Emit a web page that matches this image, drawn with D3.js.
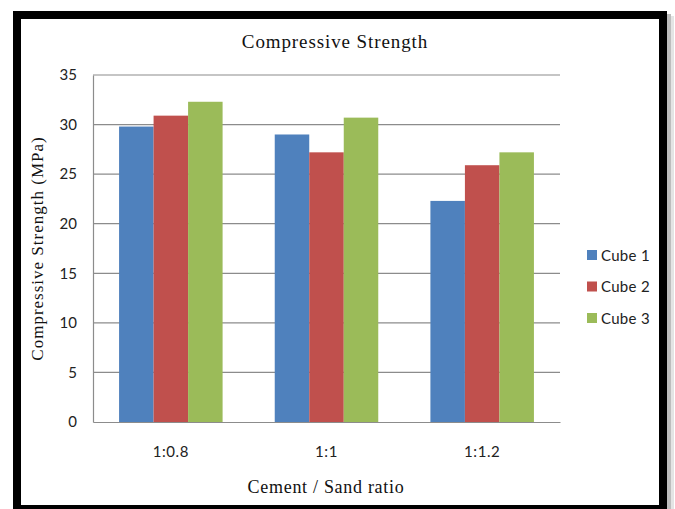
<!DOCTYPE html>
<html>
<head>
<meta charset="utf-8">
<script src="https://cdn.jsdelivr.net/npm/d3@7"></script>
<style>
  html, body { margin: 0; padding: 0; background: #fff; }
  svg { display: block; }
</style>
</head>
<body>
<svg id="chart" width="675" height="509"></svg>
<script>
// Cement / sand ratios tested
const categories = ["1:0.8", "1:1", "1:1.2"];
// Series names for each cube
const seriesNames = ["Cube 1", "Cube 2", "Cube 3"];
// Compressive strength (MPa) per cube, one value per ratio
const cube1 = [29.8, 29.0, 22.3];
const cube2 = [30.9, 27.2, 25.9];
const cube3 = [32.3, 30.7, 27.2];
const yTicks = [0, 5, 10, 15, 20, 25, 30, 35];
const colors = ["#4F81BD", "#C0504D", "#9BBB59"];

const seriesValues = [cube1, cube2, cube3];
const rows = categories.map((c, i) => ({
  category: c,
  values: seriesNames.map((s, j) => ({ series: s, value: seriesValues[j][i], idx: j }))
}));

const svg = d3.select("#chart");

const sansFont = "Lato, 'Open Sans', sans-serif";
const serifFont = "'Liberation Serif', 'DejaVu Serif', serif";

// Drop shadow on right edge and black frame
svg.append("rect").attr("x", 667).attr("y", 14).attr("width", 4).attr("height", 495).attr("fill", "#bdbdbd");
svg.append("rect").attr("x", 671).attr("y", 16).attr("width", 3).attr("height", 493).attr("fill", "#e4e4e4");
svg.append("rect")
  .attr("x", 17).attr("y", 15)
  .attr("width", 646).attr("height", 494)
  .attr("fill", "#fff")
  .attr("stroke", "#000").attr("stroke-width", 8);

const plot = { left: 93, right: 560, top: 75, bottom: 422 };

const x0 = d3.scaleBand()
  .domain(categories)
  .range([plot.left, plot.right])
  .paddingInner(0.335)
  .paddingOuter(0.1675);

const x1 = d3.scaleBand()
  .domain(seriesNames)
  .range([0, x0.bandwidth()]);

const y = d3.scaleLinear().domain([0, 35]).range([plot.bottom, plot.top]);
const color = d3.scaleOrdinal().domain(seriesNames).range(colors);

// Horizontal gridlines
svg.append("g")
  .selectAll("line")
  .data(yTicks.filter(t => t > 0))
  .join("line")
  .attr("x1", plot.left).attr("x2", plot.right)
  .attr("y1", d => y(d)).attr("y2", d => y(d))
  .attr("stroke", "#8c8c8c").attr("stroke-width", 1.2);

// Bars
svg.append("g")
  .selectAll("g")
  .data(rows)
  .join("g")
  .attr("transform", d => `translate(${x0(d.category)},0)`)
  .selectAll("rect")
  .data(d => d.values)
  .join("rect")
  .attr("x", d => x1(d.series))
  .attr("y", d => y(d.value))
  .attr("width", x1.bandwidth())
  .attr("height", d => y(0) - y(d.value))
  .attr("fill", d => color(d.series));

// Y axis
const yAxis = svg.append("g")
  .attr("transform", `translate(${plot.left},0)`)
  .call(d3.axisLeft(y).tickValues(yTicks).tickSize(0).tickPadding(16));
yAxis.select(".domain").attr("stroke", "#8c8c8c").attr("stroke-width", 1.2);
yAxis.selectAll("text")
  .attr("font-family", sansFont)
  .attr("font-size", 15)
  .attr("fill", "#222");

// X axis
const xAxis = svg.append("g")
  .attr("transform", `translate(0,${plot.bottom})`)
  .call(d3.axisBottom(x0).tickSize(0).tickPadding(24));
xAxis.select(".domain").attr("stroke", "#8c8c8c").attr("stroke-width", 1.2);
xAxis.selectAll("text")
  .attr("font-family", sansFont)
  .attr("font-size", 15)
  .attr("letter-spacing", 0.6)
  .attr("fill", "#222");

// Title and axis titles
svg.append("text")
  .attr("x", 335).attr("y", 48)
  .attr("text-anchor", "middle")
  .attr("font-family", serifFont)
  .attr("font-size", 19)
  .attr("letter-spacing", 0.9)
  .attr("fill", "#111")
  .text("Compressive Strength");

svg.append("text")
  .attr("transform", `translate(43,${(plot.top + plot.bottom) / 2}) rotate(-90)`)
  .attr("text-anchor", "middle")
  .attr("font-family", serifFont)
  .attr("font-size", 17)
  .attr("letter-spacing", 1)
  .attr("fill", "#111")
  .text("Compressive Strength (MPa)");

svg.append("text")
  .attr("x", 326).attr("y", 493)
  .attr("text-anchor", "middle")
  .attr("font-family", serifFont)
  .attr("font-size", 18)
  .attr("letter-spacing", 0.7)
  .attr("fill", "#111")
  .text("Cement / Sand ratio");

// Legend
const legend = svg.append("g")
  .selectAll("g")
  .data(seriesNames)
  .join("g")
  .attr("transform", (d, i) => `translate(587,${250 + i * 31.5})`);
legend.append("rect")
  .attr("width", 10).attr("height", 10)
  .attr("fill", d => color(d));
legend.append("text")
  .attr("x", 14).attr("y", 10.5)
  .attr("font-family", sansFont)
  .attr("font-size", 15)
  .attr("letter-spacing", 0.3)
  .attr("fill", "#222")
  .text(d => d);
</script>
</body>
</html>
